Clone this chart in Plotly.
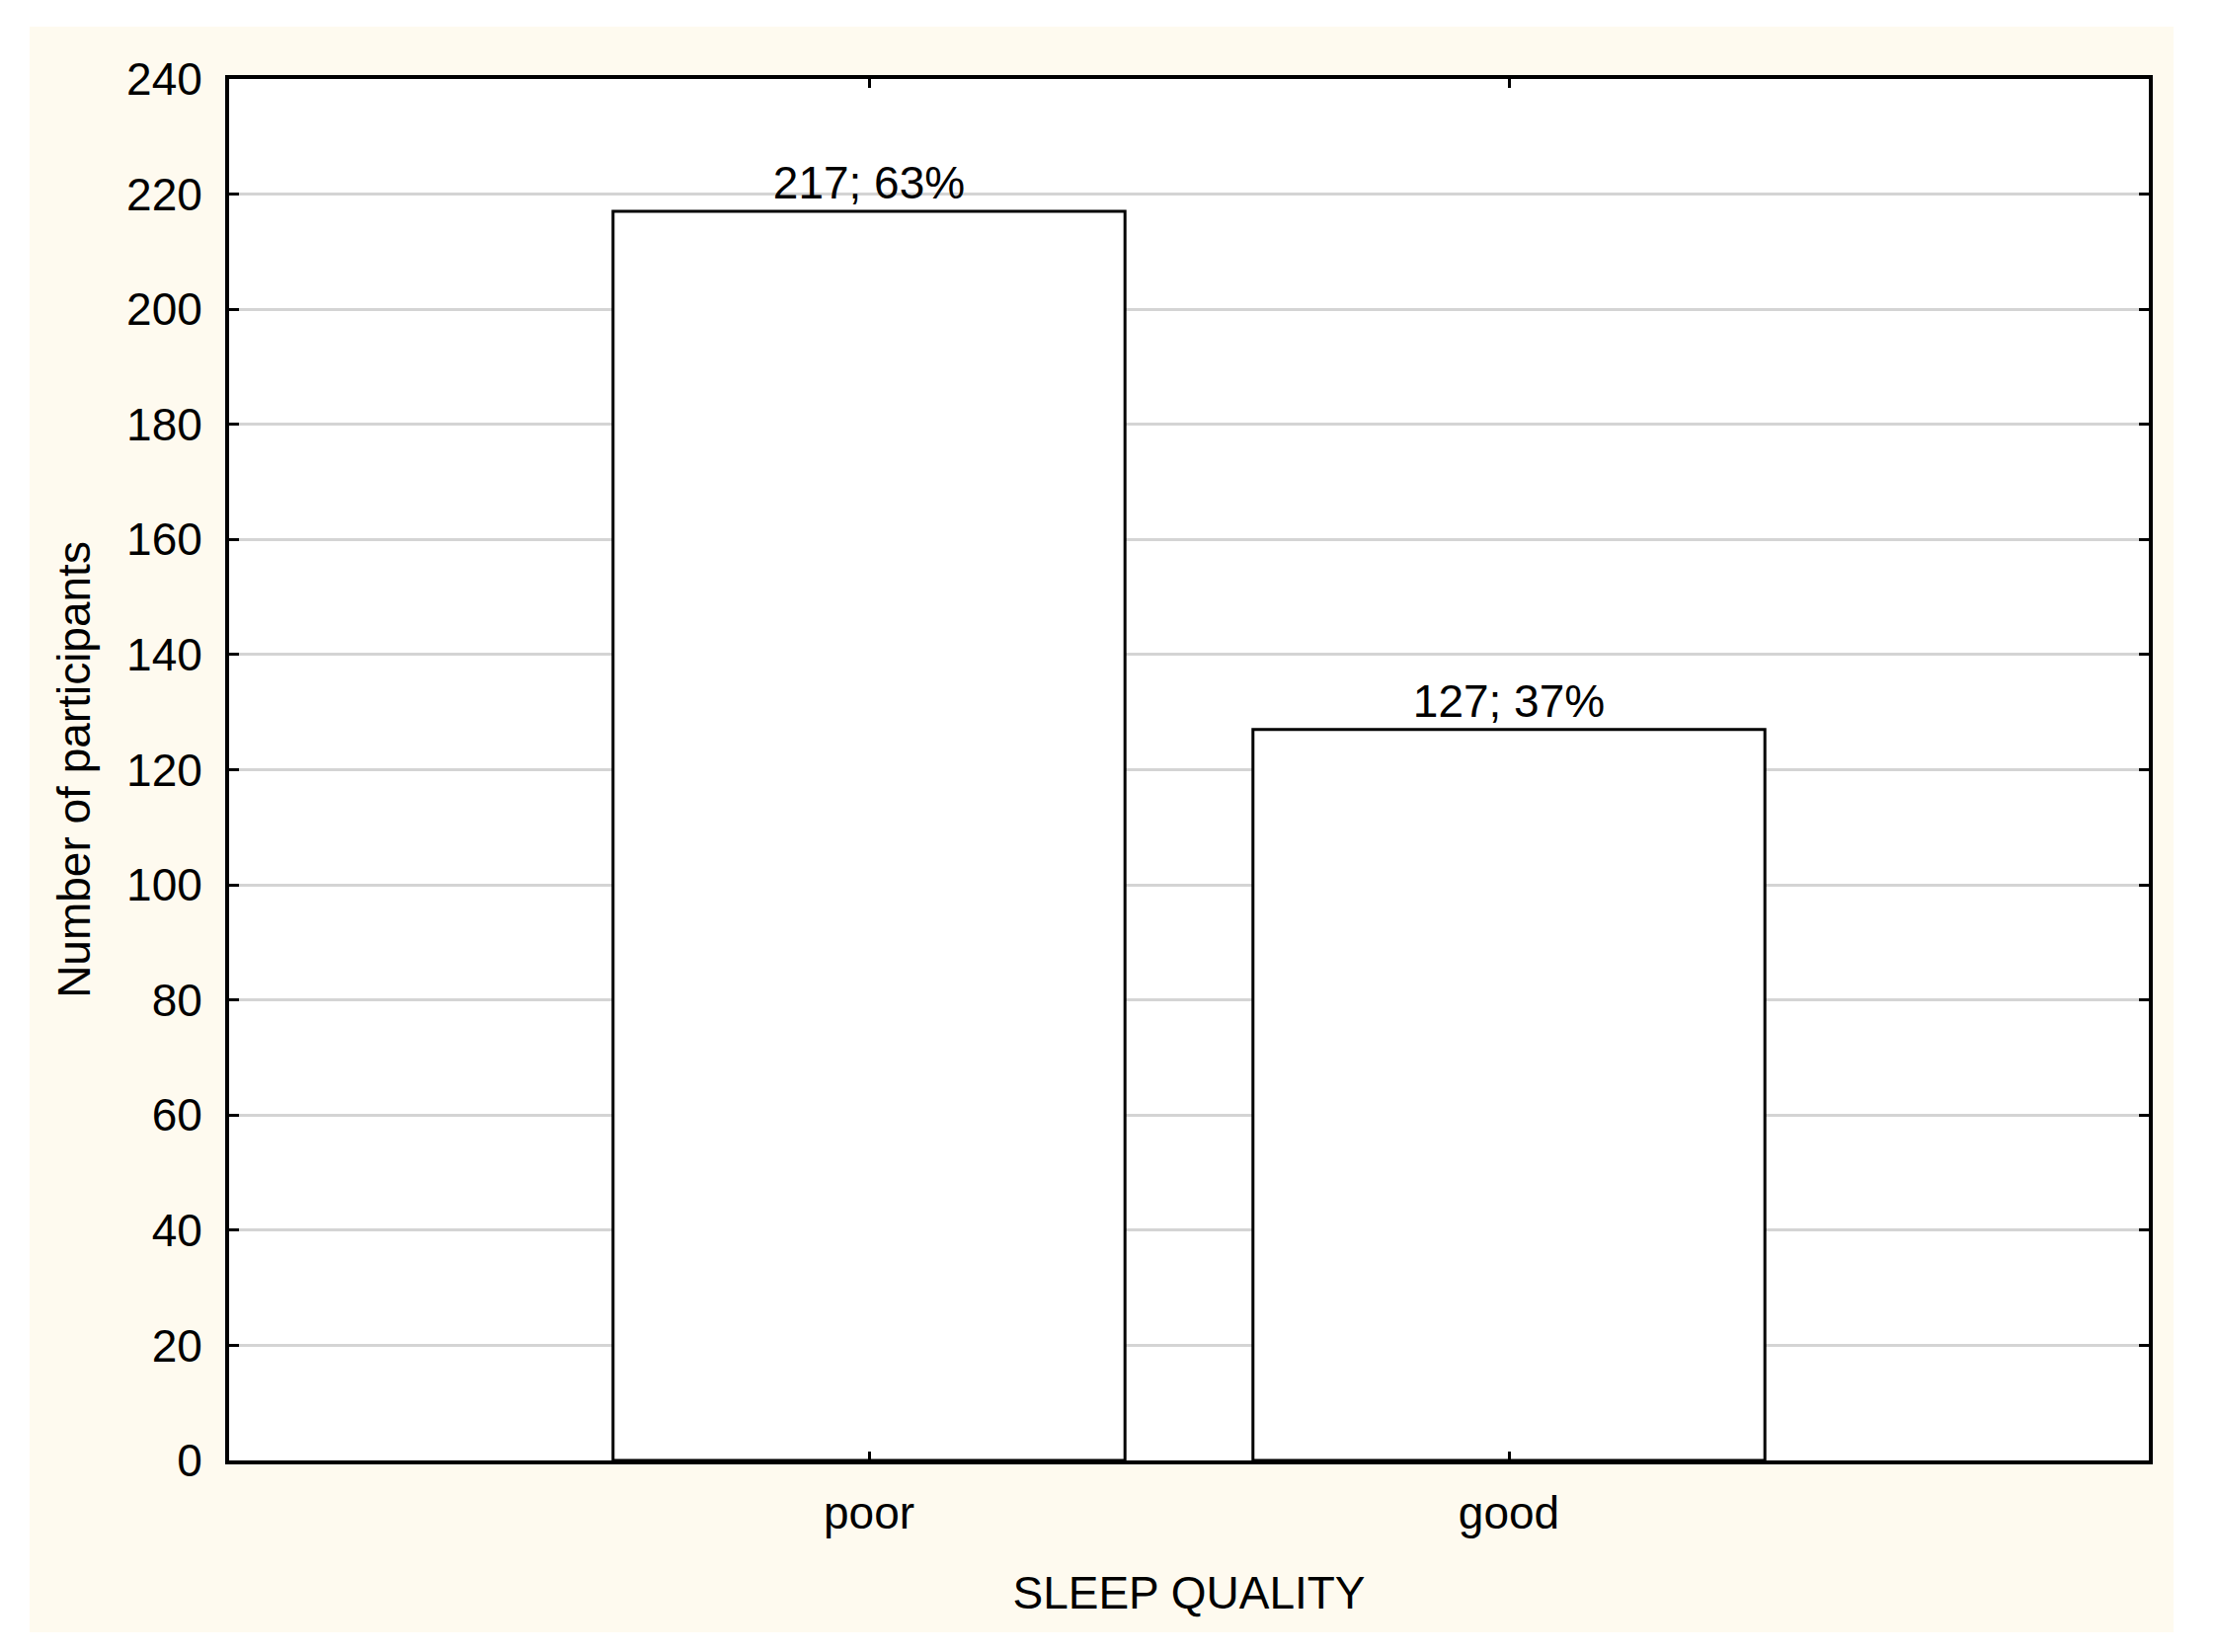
import plotly.graph_objects as go

categories = ["poor", "good"]
counts = [217, 127]
percents = [63, 37]
y_ticks = list(range(0, 241, 20))

W, H = 2243, 1673
OFF = 8  # browser body margin
L, T, R, B = 224, 72, 75, 202
pw, ph = W - L - R, H - T - B

def px_x(p):
    return (p - OFF - L) / pw

def px_y(p):
    return (H - B - (p - OFF)) / ph

CREAM = "#FEFAEF"
FONT = "Liberation Sans, Arial, sans-serif"
FS = 46

labels = [f"{c}; {p}%" for c, p in zip(counts, percents)]

fig = go.Figure()
fig.add_trace(go.Bar(
    x=categories, y=counts, width=0.8,
    marker=dict(color="white", line=dict(color="black", width=3)),
    text=labels, textposition="outside",
    textfont=dict(size=FS, color="black", family=FONT),
    cliponaxis=False, showlegend=False,
))

shapes = []
for x0, x1, y0, y1 in [
    (-20, 30, -20, H + 20), (2201, W + 20, -20, H + 20),
    (-20, W + 20, -20, 27), (-20, W + 20, 1653, H + 20)
]:
    shapes.append(dict(type="rect", xref="paper", yref="paper",
                       x0=px_x(x0), x1=px_x(x1), y0=px_y(y1), y1=px_y(y0),
                       fillcolor="white", line=dict(width=0), layer="above"))

fig.update_layout(
    width=W, height=H,
    margin=dict(l=L, r=R, t=T, b=B, autoexpand=False),
    paper_bgcolor=CREAM, plot_bgcolor="white",
    font=dict(family=FONT, size=FS, color="black"),
    bargap=0.2,
    shapes=shapes,
    xaxis=dict(
        type="category", range=[-1, 2],
        showline=True, linecolor="black", linewidth=4, mirror="ticks",
        ticks="inside", ticklen=9, tickwidth=3, tickcolor="black",
        showgrid=False, zeroline=False,
        tickfont=dict(size=FS, family=FONT),
        ticklabelstandoff=10,
        title=dict(text="SLEEP QUALITY", font=dict(size=FS, family=FONT), standoff=41),
    ),
    yaxis=dict(
        range=[0, 240], tickvals=y_ticks,
        showline=True, linecolor="black", linewidth=4, mirror="ticks",
        ticks="inside", ticklen=10, tickwidth=3, tickcolor="black",
        showgrid=True, gridcolor="#D4D4D4", gridwidth=3,
        zeroline=False,
        tickfont=dict(size=FS, family=FONT),
        ticklabelstandoff=14,
        title=dict(text="Number of participants", font=dict(size=FS, family=FONT), standoff=23),
    ),
)

fig.write_html("out.html")
